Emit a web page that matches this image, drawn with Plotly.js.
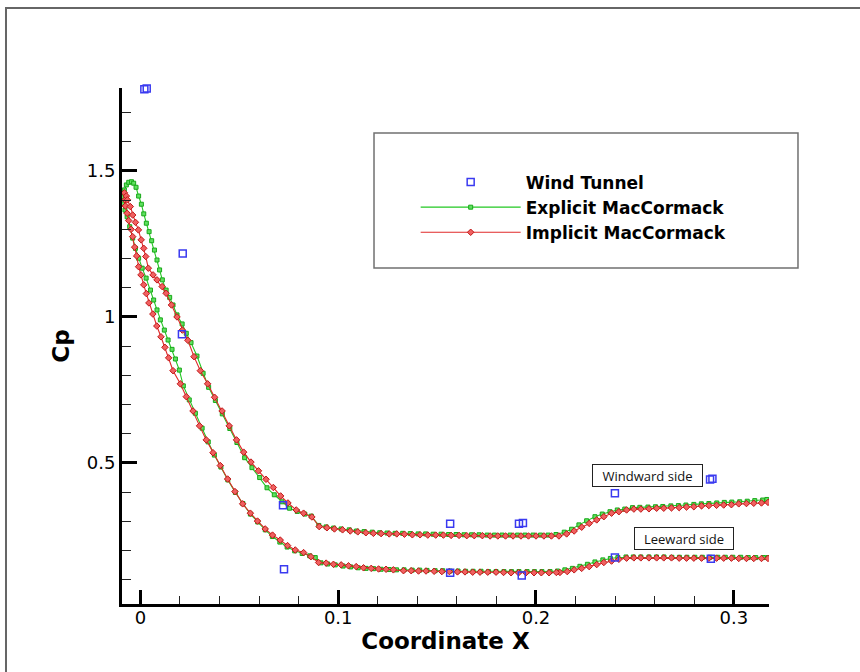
<!DOCTYPE html>
<html>
<head>
<meta charset="utf-8">
<script src="https://cdn.plot.ly/plotly-3.0.1.min.js"></script>
<style>html,body{margin:0;padding:0;background:#fff;}#chart{width:860px;height:672px;}</style>
</head>
<body>
<div id="chart"></div>
<script>
// Wind tunnel measurements
const windTunnelX = [0.0020, 0.0032, 0.0214, 0.0210, 0.0721, 0.0726, 0.1566, 0.1566, 0.1914, 0.1934, 0.1928, 0.2399, 0.2399, 0.2880, 0.2892, 0.2884];
const windTunnelY = [1.780, 1.782, 1.217, 0.941, 0.355, 0.136, 0.292, 0.124, 0.292, 0.294, 0.115, 0.396, 0.176, 0.443, 0.446, 0.172];

// Explicit MacCormack - windward (upper) branch, starting at stagnation point
const explicitUpperX = [-0.0093, -0.0081, -0.0071, -0.0059, -0.0045, -0.0034, -0.0022, -0.0009, 0.0005, 0.0017, 0.0030, 0.0044, 0.0057, 0.0071, 0.0084, 0.0097, 0.0111, 0.0130, 0.0148, 0.0165, 0.0185, 0.0211, 0.0232, 0.0256, 0.0286, 0.0317, 0.0345, 0.0379, 0.0414, 0.0452, 0.0488, 0.0527, 0.0564, 0.0603, 0.0640, 0.0677, 0.0716, 0.0754, 0.0793, 0.0831, 0.0864, 0.0902, 0.0939, 0.0977, 0.1015, 0.1056, 0.1093, 0.1131, 0.1172, 0.1210, 0.1247, 0.1288, 0.1326, 0.1364, 0.1404, 0.1442, 0.1480, 0.1520, 0.1558, 0.1596, 0.1636, 0.1674, 0.1712, 0.1753, 0.1790, 0.1828, 0.1869, 0.1907, 0.1944, 0.1985, 0.2023, 0.2061, 0.2101, 0.2143, 0.2180, 0.2217, 0.2256, 0.2298, 0.2335, 0.2374, 0.2411, 0.2449, 0.2488, 0.2525, 0.2566, 0.2604, 0.2641, 0.2682, 0.2720, 0.2758, 0.2798, 0.2836, 0.2874, 0.2914, 0.2952, 0.2990, 0.3030, 0.3068, 0.3106, 0.3146, 0.3167];
const explicitUpperY = [1.411, 1.435, 1.452, 1.461, 1.463, 1.458, 1.444, 1.414, 1.386, 1.353, 1.321, 1.292, 1.261, 1.229, 1.195, 1.161, 1.127, 1.092, 1.067, 1.041, 1.007, 0.976, 0.944, 0.912, 0.866, 0.807, 0.759, 0.714, 0.668, 0.618, 0.570, 0.518, 0.484, 0.450, 0.415, 0.391, 0.367, 0.345, 0.334, 0.325, 0.318, 0.286, 0.281, 0.277, 0.274, 0.271, 0.267, 0.265, 0.263, 0.261, 0.260, 0.259, 0.259, 0.258, 0.257, 0.257, 0.256, 0.256, 0.255, 0.255, 0.254, 0.254, 0.254, 0.253, 0.253, 0.253, 0.253, 0.253, 0.253, 0.253, 0.253, 0.253, 0.255, 0.263, 0.273, 0.288, 0.302, 0.316, 0.325, 0.333, 0.339, 0.342, 0.347, 0.348, 0.349, 0.350, 0.351, 0.353, 0.354, 0.356, 0.358, 0.360, 0.361, 0.363, 0.365, 0.366, 0.367, 0.369, 0.371, 0.373, 0.375];

// Explicit MacCormack - leeward (lower) branch, from leading edge
const explicitLowerX = [-0.0086, -0.0078, -0.0067, -0.0054, -0.0039, -0.0025, -0.0009, 0.0009, 0.0029, 0.0051, 0.0067, 0.0084, 0.0101, 0.0121, 0.0140, 0.0160, 0.0177, 0.0197, 0.0217, 0.0247, 0.0278, 0.0312, 0.0343, 0.0374, 0.0407, 0.0442, 0.0480, 0.0518, 0.0556, 0.0593, 0.0631, 0.0667, 0.0705, 0.0742, 0.0780, 0.0818, 0.0856, 0.0884, 0.0913, 0.0947, 0.0985, 0.1025, 0.1063, 0.1101, 0.1141, 0.1179, 0.1217, 0.1258, 0.1295, 0.1333, 0.1374, 0.1412, 0.1449, 0.1490, 0.1528, 0.1566, 0.1606, 0.1644, 0.1682, 0.1722, 0.1760, 0.1798, 0.1838, 0.1876, 0.1914, 0.1955, 0.1992, 0.2030, 0.2071, 0.2109, 0.2146, 0.2184, 0.2222, 0.2260, 0.2298, 0.2338, 0.2376, 0.2414, 0.2455, 0.2492, 0.2530, 0.2571, 0.2609, 0.2647, 0.2687, 0.2725, 0.2763, 0.2803, 0.2841, 0.2879, 0.2919, 0.2957, 0.2995, 0.3035, 0.3073, 0.3111, 0.3150, 0.3172];
const explicitLowerY = [1.387, 1.366, 1.343, 1.309, 1.270, 1.235, 1.201, 1.167, 1.133, 1.092, 1.058, 1.024, 0.990, 0.955, 0.921, 0.889, 0.856, 0.818, 0.764, 0.716, 0.670, 0.619, 0.572, 0.527, 0.486, 0.442, 0.399, 0.361, 0.325, 0.298, 0.271, 0.248, 0.229, 0.212, 0.199, 0.190, 0.182, 0.176, 0.158, 0.154, 0.151, 0.147, 0.144, 0.141, 0.139, 0.138, 0.136, 0.135, 0.134, 0.134, 0.133, 0.133, 0.132, 0.131, 0.131, 0.130, 0.130, 0.129, 0.129, 0.129, 0.128, 0.128, 0.128, 0.128, 0.128, 0.128, 0.128, 0.128, 0.128, 0.130, 0.134, 0.139, 0.146, 0.153, 0.161, 0.168, 0.173, 0.176, 0.178, 0.178, 0.178, 0.178, 0.178, 0.178, 0.177, 0.177, 0.177, 0.177, 0.177, 0.177, 0.177, 0.177, 0.177, 0.177, 0.176, 0.176, 0.176, 0.176];

// Implicit MacCormack - windward (upper) branch, starting at stagnation point
const implicitUpperX = [-0.0081, -0.0071, -0.0066, -0.0051, -0.0039, -0.0025, -0.0010, 0.0004, 0.0017, 0.0027, 0.0040, 0.0064, 0.0084, 0.0110, 0.0130, 0.0157, 0.0185, 0.0212, 0.0240, 0.0271, 0.0303, 0.0340, 0.0375, 0.0413, 0.0449, 0.0486, 0.0522, 0.0559, 0.0597, 0.0635, 0.0672, 0.0709, 0.0746, 0.0788, 0.0825, 0.0867, 0.0904, 0.0943, 0.0981, 0.1022, 0.1061, 0.1099, 0.1140, 0.1178, 0.1217, 0.1258, 0.1296, 0.1335, 0.1375, 0.1414, 0.1453, 0.1493, 0.1532, 0.1571, 0.1611, 0.1650, 0.1688, 0.1729, 0.1768, 0.1807, 0.1846, 0.1884, 0.1924, 0.1962, 0.2000, 0.2040, 0.2078, 0.2116, 0.2155, 0.2193, 0.2231, 0.2269, 0.2307, 0.2343, 0.2382, 0.2419, 0.2458, 0.2495, 0.2530, 0.2571, 0.2610, 0.2646, 0.2685, 0.2724, 0.2761, 0.2798, 0.2837, 0.2874, 0.2913, 0.2949, 0.2988, 0.3025, 0.3064, 0.3101, 0.3140, 0.3173];
const implicitUpperY = [1.425, 1.414, 1.401, 1.378, 1.349, 1.324, 1.298, 1.264, 1.235, 1.207, 1.167, 1.144, 1.127, 1.104, 1.081, 1.041, 1.000, 0.955, 0.920, 0.864, 0.816, 0.771, 0.725, 0.678, 0.627, 0.579, 0.537, 0.503, 0.473, 0.444, 0.416, 0.387, 0.363, 0.339, 0.328, 0.315, 0.282, 0.278, 0.274, 0.271, 0.267, 0.264, 0.261, 0.259, 0.258, 0.257, 0.257, 0.256, 0.254, 0.254, 0.253, 0.253, 0.253, 0.252, 0.252, 0.251, 0.251, 0.251, 0.250, 0.250, 0.250, 0.250, 0.250, 0.250, 0.250, 0.250, 0.250, 0.250, 0.257, 0.267, 0.280, 0.293, 0.305, 0.316, 0.328, 0.333, 0.339, 0.342, 0.342, 0.343, 0.345, 0.345, 0.346, 0.347, 0.349, 0.350, 0.353, 0.354, 0.355, 0.356, 0.357, 0.360, 0.361, 0.362, 0.363, 0.365];

// Implicit MacCormack - leeward (lower) branch, from leading edge
const implicitLowerX = [-0.0078, -0.0076, -0.0067, -0.0059, -0.0047, -0.0039, -0.0029, -0.0019, -0.0009, 0.0003, 0.0017, 0.0030, 0.0043, 0.0063, 0.0083, 0.0104, 0.0124, 0.0143, 0.0165, 0.0202, 0.0232, 0.0266, 0.0299, 0.0333, 0.0367, 0.0404, 0.0441, 0.0478, 0.0517, 0.0556, 0.0592, 0.0631, 0.0668, 0.0707, 0.0744, 0.0783, 0.0825, 0.0862, 0.0901, 0.0939, 0.0976, 0.1015, 0.1052, 0.1091, 0.1128, 0.1167, 0.1204, 0.1242, 0.1279, 0.1330, 0.1369, 0.1406, 0.1444, 0.1485, 0.1524, 0.1562, 0.1603, 0.1641, 0.1680, 0.1717, 0.1756, 0.1798, 0.1836, 0.1874, 0.1912, 0.1949, 0.1990, 0.2027, 0.2066, 0.2103, 0.2121, 0.2158, 0.2193, 0.2231, 0.2269, 0.2307, 0.2343, 0.2382, 0.2419, 0.2458, 0.2495, 0.2530, 0.2571, 0.2610, 0.2646, 0.2685, 0.2724, 0.2761, 0.2798, 0.2837, 0.2874, 0.2913, 0.2949, 0.2988, 0.3025, 0.3064, 0.3101, 0.3140, 0.3173];
const implicitLowerY = [1.401, 1.380, 1.355, 1.330, 1.300, 1.275, 1.239, 1.209, 1.172, 1.144, 1.110, 1.080, 1.048, 1.010, 0.969, 0.932, 0.896, 0.860, 0.816, 0.771, 0.727, 0.678, 0.627, 0.579, 0.535, 0.491, 0.445, 0.402, 0.360, 0.328, 0.301, 0.274, 0.253, 0.236, 0.217, 0.202, 0.193, 0.179, 0.159, 0.157, 0.153, 0.151, 0.148, 0.145, 0.141, 0.139, 0.137, 0.136, 0.134, 0.131, 0.131, 0.130, 0.130, 0.129, 0.128, 0.128, 0.127, 0.127, 0.126, 0.126, 0.126, 0.126, 0.125, 0.124, 0.124, 0.124, 0.124, 0.124, 0.124, 0.125, 0.125, 0.128, 0.134, 0.139, 0.145, 0.152, 0.159, 0.164, 0.170, 0.174, 0.175, 0.175, 0.175, 0.175, 0.175, 0.175, 0.174, 0.174, 0.174, 0.174, 0.174, 0.174, 0.174, 0.174, 0.173, 0.173, 0.173, 0.173, 0.173];

const seriesNames = ['Wind Tunnel', 'Explicit MacCormack', 'Implicit MacCormack'];
const xTickTitle = 'Coordinate X';
const yTickTitle = 'Cp';

function joinBranches(lowerX, lowerY, upperX, upperY) {
  return {
    x: lowerX.slice().reverse().concat(upperX),
    y: lowerY.slice().reverse().concat(upperY)
  };
}
const exp = joinBranches(explicitLowerX, explicitLowerY, explicitUpperX, explicitUpperY);
const imp = joinBranches(implicitLowerX, implicitLowerY, implicitUpperX, implicitUpperY);

const GREEN = '#22c822';
const RED = '#e02828';
const BLUE = '#3a3af0';

const traces = [
  {
    type: 'scatter', mode: 'lines+markers', name: seriesNames[1], legendrank: 2,
    x: exp.x, y: exp.y,
    line: {color: GREEN, width: 1.1},
    marker: {symbol: 'square', size: 4, color: '#5fe05f', line: {color: '#18a818', width: 1}}
  },
  {
    type: 'scatter', mode: 'lines+markers', name: seriesNames[2], legendrank: 3,
    x: imp.x, y: imp.y,
    line: {color: RED, width: 1.1},
    marker: {symbol: 'diamond', size: 5, color: '#f06060', line: {color: '#c01818', width: 1}}
  },
  {
    type: 'scatter', mode: 'markers', name: seriesNames[0], legendrank: 1,
    x: windTunnelX, y: windTunnelY, cliponaxis: false,
    marker: {symbol: 'square-open', size: 7, color: BLUE, line: {color: BLUE, width: 1.5}}
  }
];

const tickFont = {family: 'DejaVu Sans', size: 18, color: '#000'};
const titleFont = {family: 'DejaVu Sans', size: 23, color: '#000', weight: 'bold'};

const layout = {
  width: 860, height: 672,
  margin: {l: 122, r: 91, t: 88, b: 68},
  paper_bgcolor: '#fff', plot_bgcolor: '#fff',
  showlegend: true,
  legend: {
    x: 0.4539, y: 0.8517, xanchor: 'left', yanchor: 'top',
    bgcolor: 'rgba(0,0,0,0)', borderwidth: 0,
    itemwidth: 100,
    font: {family: 'DejaVu Sans', size: 17, color: '#000', weight: 'bold'},
    traceorder: 'normal'
  },
  xaxis: {
    range: [-0.0093, 0.3178], tick0: 0, dtick: 0.1,
    showline: true, linecolor: '#000', linewidth: 3,
    ticks: 'inside', ticklen: 14, tickwidth: 3, tickcolor: '#000',
    minor: {dtick: 0.02, ticks: 'inside', ticklen: 8, tickwidth: 1, tickcolor: '#222', showgrid: false},
    showgrid: false, zeroline: false,
    tickfont: tickFont, ticklabelstandoff: -5,
    title: {text: xTickTitle, font: titleFont, standoff: 0}
  },
  yaxis: {
    range: [0.017, 1.784], tick0: 0, dtick: 0.5,
    showline: true, linecolor: '#000', linewidth: 3,
    ticks: 'inside', ticklen: 15, tickwidth: 3, tickcolor: '#000',
    minor: {dtick: 0.1, ticks: 'inside', ticklen: 9, tickwidth: 1, tickcolor: '#222', showgrid: false},
    showgrid: false, zeroline: false,
    tickfont: tickFont,
    title: {text: yTickTitle, font: titleFont, standoff: 11}
  },
  shapes: [
    // outer frame (top and left visible)
    {type: 'rect', xref: 'paper', yref: 'paper', x0: -0.1793, x1: 1.4, y0: -0.4, y1: 1.155,
     line: {color: '#666', width: 2}, fillcolor: 'rgba(0,0,0,0)', layer: 'above'},
    // legend box
    {type: 'rect', xref: 'paper', yref: 'paper', x0: 0.3895, x1: 1.0448, y0: 0.6512, y1: 0.9128,
     line: {color: '#707070', width: 1.5}, fillcolor: '#fff', layer: 'above'}
  ],
  annotations: [
    {text: 'Windward side', xref: 'x', yref: 'y', x: 0.2563, y: 0.4555, showarrow: false,
     font: {family: 'Open Sans', size: 13, color: '#111'}, bgcolor: '#fff',
     bordercolor: '#222', borderwidth: 1, borderpad: 2, width: 105, height: 17},
    {text: 'Leeward side', xref: 'x', yref: 'y', x: 0.2750, y: 0.2414, showarrow: false,
     font: {family: 'Open Sans', size: 13, color: '#111'}, bgcolor: '#fff',
     bordercolor: '#222', borderwidth: 1, borderpad: 2, width: 94, height: 17}
  ]
};

Plotly.newPlot('chart', traces, layout, {displayModeBar: false, staticPlot: true});
</script>
</body>
</html>
